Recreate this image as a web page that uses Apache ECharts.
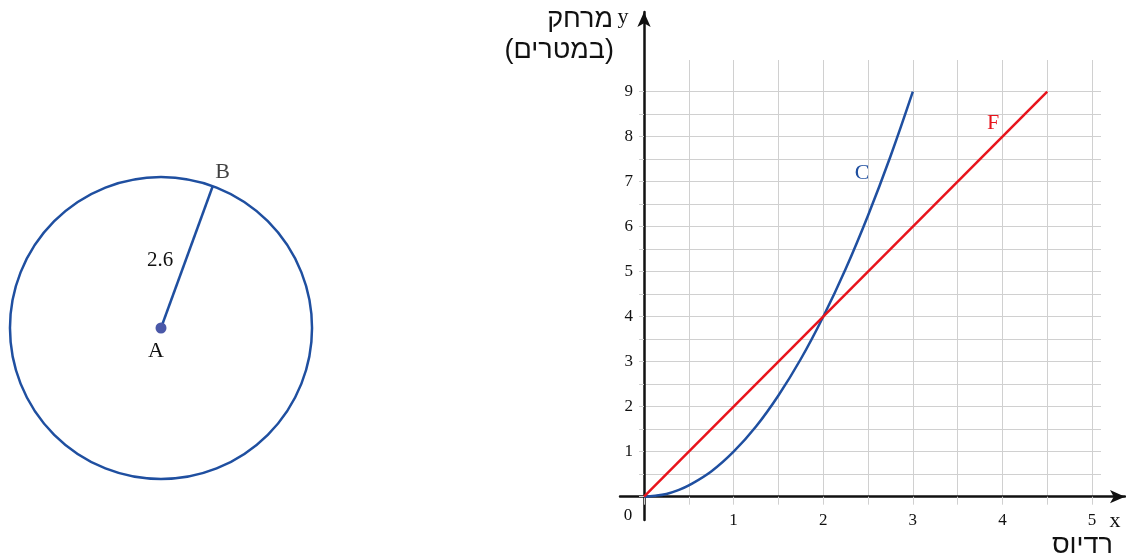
<!DOCTYPE html>
<html><head><meta charset="utf-8">
<script src="https://cdn.jsdelivr.net/npm/echarts@6/dist/echarts.min.js"></script>
<style>html,body{margin:0;padding:0;background:#fff}#c{width:1126px;height:556px}</style>
</head><body><div id="c"></div>
<script>
// ---- data ----
const xTicks = [0, 1, 2, 3, 4, 5];
const yTicks = [0, 1, 2, 3, 4, 5, 6, 7, 8, 9];
const curveC = [[0,0],[0.125,0.02],[0.25,0.06],[0.375,0.14],[0.5,0.25],[0.75,0.56],[1,1],[1.25,1.56],[1.5,2.25],[1.75,3.06],[2,4],[2.25,5.06],[2.5,6.25],[2.75,7.56],[3,9]];
const lineF = [[0,0],[4.5,9]];
const circleCenterA = [0, 0];
const circleRadius = 2.6;
const pointB = [0.89, 2.44];

const BLUE = '#1f4fa0', RED = '#e8141c', DOT = '#4a58a8', GRID = '#d0d0d0', INK = '#111';
const serif = '"Liberation Serif", "DejaVu Serif", serif';
const sans = '"Liberation Sans", "DejaVu Sans", sans-serif';

const chart = echarts.init(document.getElementById('c'));
chart.setOption({
  animation: false,
  backgroundColor: '#fff',
  grid: [
    {left: 644, top: 91.7, width: 457, height: 405},   // horizontal grid lines + data
    {left: 644, top: 60, width: 448, height: 436.7},   // vertical grid lines
    {left: 620, top: 12, width: 505, height: 508},     // arrow axes
    {left: 3, top: 170, width: 316, height: 316}       // circle
  ],
  xAxis: [
    {gridIndex: 0, type: 'value', min: 0, max: 5.1, show: false},
    {gridIndex: 1, type: 'value', min: 0, max: 5, interval: 0.5,
     axisLine: {show: false},
     axisTick: {show: true, length: 8, lineStyle: {color: GRID}},
     splitLine: {show: true, lineStyle: {color: GRID, width: 1}},
     axisLabel: {margin: 15, fontFamily: serif, fontSize: 17, color: INK,
       formatter: v => (xTicks.includes(v) && v !== 0) ? String(v) : ''}},
    {gridIndex: 2, type: 'value', min: -0.268, max: 5.368,
     axisLine: {show: true, onZero: true, symbol: ['none', 'arrow'], symbolSize: [10, 15],
       lineStyle: {color: INK, width: 2.5}},
     axisTick: {show: false}, splitLine: {show: false}, axisLabel: {show: false}},
    {gridIndex: 3, type: 'value', min: -2.72, max: 2.72, show: false}
  ],
  yAxis: [
    {gridIndex: 0, type: 'value', min: 0, max: 9, interval: 0.5,
     axisLine: {show: false},
     axisTick: {show: true, length: 5, lineStyle: {color: GRID}},
     splitLine: {show: true, lineStyle: {color: GRID, width: 1}},
     axisLabel: {margin: 11, fontFamily: serif, fontSize: 17, color: INK,
       formatter: v => (yTicks.includes(v) && v !== 0) ? String(v) : ''}},
    {gridIndex: 1, type: 'value', min: 0, max: 9.7, show: false},
    {gridIndex: 2, type: 'value', min: -0.518, max: 10.771,
     axisLine: {show: true, onZero: true, symbol: ['none', 'arrow'], symbolSize: [10, 15],
       lineStyle: {color: INK, width: 2.5}},
     axisTick: {show: false}, splitLine: {show: false}, axisLabel: {show: false}},
    {gridIndex: 3, type: 'value', min: -2.72, max: 2.72, show: false}
  ],
  series: [
    {type: 'line', xAxisIndex: 0, yAxisIndex: 0, data: curveC, smooth: 0.4,
     symbol: 'none', clip: false, z: 5, lineStyle: {color: BLUE, width: 2.5}},
    {type: 'line', xAxisIndex: 0, yAxisIndex: 0, data: lineF, symbol: 'none',
     clip: false, z: 5, lineStyle: {color: RED, width: 2.5}},
    {type: 'custom', xAxisIndex: 3, yAxisIndex: 3, data: [[circleCenterA[0], circleCenterA[1], circleRadius]],
     clip: false,
     renderItem: (params, api) => {
       const c = api.coord([api.value(0), api.value(1)]);
       const r = api.size([api.value(2), 0])[0];
       return {type: 'circle', shape: {cx: c[0], cy: c[1], r: r},
         style: {fill: 'none', stroke: BLUE, lineWidth: 2.5}};
     }},
    {type: 'line', xAxisIndex: 3, yAxisIndex: 3, data: [circleCenterA, pointB], symbol: 'none',
     lineStyle: {color: BLUE, width: 2.5}},
    {type: 'scatter', xAxisIndex: 3, yAxisIndex: 3, data: [circleCenterA], symbolSize: 11,
     itemStyle: {color: DOT, opacity: 1}, z: 6,
     label: {show: true, position: 'bottom', distance: 4, offset: [-5, 3], formatter: 'A',
       fontFamily: serif, fontSize: 22, color: INK}},
    {type: 'scatter', xAxisIndex: 3, yAxisIndex: 3, data: [pointB], symbolSize: 0,
     label: {show: true, position: 'top', offset: [10, 2], formatter: 'B',
       fontFamily: serif, fontSize: 22, color: INK}}
  ],
  graphic: [
    {type: 'text', x: 160, y: 260, style: {text: '2.6', font: '21px ' + serif, fill: INK, align: 'center', verticalAlign: 'middle'}},
    {type: 'text', x: 862, y: 173, style: {text: 'C', font: '22px ' + serif, fill: BLUE, align: 'center', verticalAlign: 'middle'}},
    {type: 'text', x: 993, y: 123, style: {text: 'F', font: '22px ' + serif, fill: RED, align: 'center', verticalAlign: 'middle'}},
    {type: 'text', x: 628, y: 516, style: {text: '0', font: '17px ' + serif, fill: INK, align: 'center', verticalAlign: 'middle'}},
    {type: 'text', x: 1115, y: 521, style: {text: 'x', font: '22px ' + serif, fill: INK, align: 'center', verticalAlign: 'middle'}},
    {type: 'text', x: 623, y: 17, style: {text: 'y', font: '22px ' + serif, fill: INK, align: 'center', verticalAlign: 'middle'}},
    {type: 'text', x: 613, y: 20, style: {text: 'מרחק', font: '27px ' + sans, fill: INK, align: 'right', verticalAlign: 'middle'}},
    {type: 'text', x: 614, y: 51, style: {text: '(במטרים)', font: '27px ' + sans, fill: INK, align: 'right', verticalAlign: 'middle'}},
    {type: 'text', x: 1113, y: 546, style: {text: 'רדיוס', font: '27px ' + sans, fill: INK, align: 'right', verticalAlign: 'middle'}}
  ]
});
</script></body></html>
